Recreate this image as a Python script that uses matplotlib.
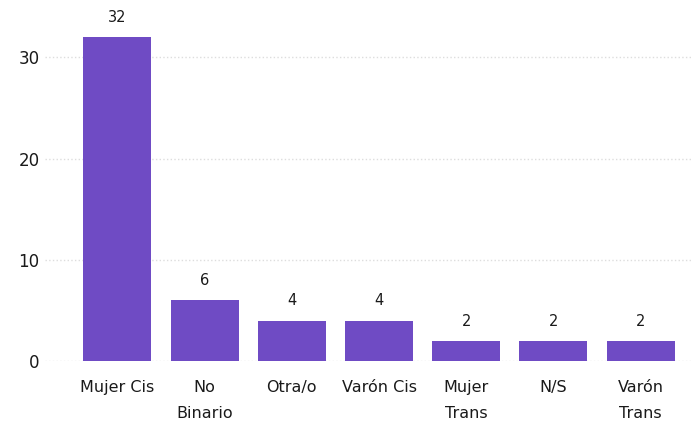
import numpy as np
import matplotlib
matplotlib.use('Agg')
import matplotlib.pyplot as plt

categorias = ["Mujer Cis", "No\nBinario", "Otra/o", "Varón Cis", "Mujer\nTrans", "N/S", "Varón\nTrans"]
valores = [32, 6, 4, 4, 2, 2, 2]
yticks = [0, 10, 20, 30]

plt.rcParams['font.family'] = ['DejaVu Sans']
fig = plt.figure(figsize=(6.93, 4.26), dpi=100)
ax = fig.add_axes([45 / 693, 65 / 426, 648 / 693, 341 / 426])

x = np.arange(len(categorias))
bars = ax.bar(x, valores, width=0.78, color='#6f4bc4', zorder=2)
for b, v in zip(bars, valores):
    ax.text(b.get_x() + b.get_width() / 2, v + 1.2, str(v), ha='center', va='bottom',
            fontsize=10.5, color='#1a1a1a')

ax.set_xlim(-0.83, 6.6)
ax.set_ylim(0, 33.7)
ax.set_yticks(yticks)
ax.set_xticks(x)
ax.set_xticklabels(categorias, fontsize=11.5, color='#1a1a1a', linespacing=1.9, va='top')
ax.tick_params(axis='y', labelsize=12, colors='#1a1a1a', length=0, pad=4)
ax.tick_params(axis='x', length=0, pad=14)
ax.grid(axis='y', linestyle=':', color='#dddddd', linewidth=1, zorder=0)
for s in ax.spines.values():
    s.set_visible(False)

fig.savefig('out.png', dpi=100)
